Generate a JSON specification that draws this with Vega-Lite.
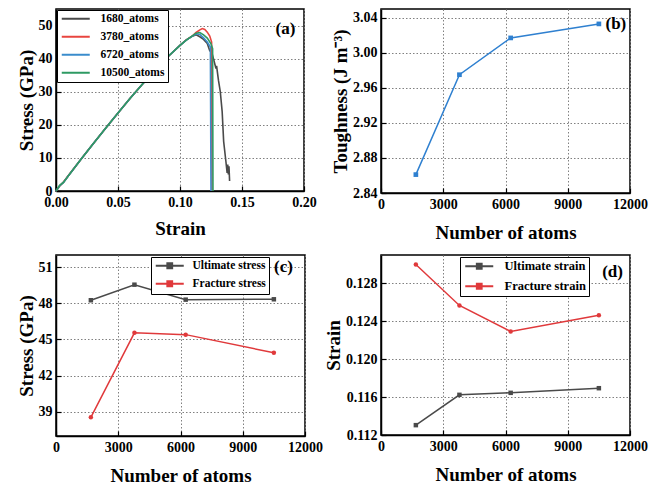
{
  "$schema": "https://vega.github.io/schema/vega-lite/v6.json",
  "background": "white",
  "padding": {"left": 16, "top": 8, "right": 5, "bottom": 2},
  "bounds": "flush",
  "spacing": {"row": 62, "column": 76},
  "columns": 2,
  "resolve": {"scale": {"color": "independent"}, "legend": {"color": "independent"}},
  "config": {
    "font": "Liberation Serif",
    "view": {"stroke": "black", "strokeWidth": 1.5},
    "axis": {
      "labelFont": "Liberation Serif", "labelFontSize": 14, "labelFontWeight": "bold", "labelColor": "black",
      "titleFont": "Liberation Serif", "titleFontSize": 19, "titleFontWeight": "bold", "titleColor": "black",
      "domainColor": "black", "domainWidth": 1.5, "tickColor": "black", "tickSize": -5, "tickWidth": 1.2,
      "labelPadding": 9, "labelOverlap": false, "labelFlush": false, "tickCount": 20,
      "gridColor": "#808080", "gridDash": [1.5, 2], "gridWidth": 1
    },
    "legend": {
      "labelFont": "Liberation Serif", "labelFontSize": 11.5, "labelFontWeight": "bold", "labelColor": "black",
      "symbolType": "M-3.5,0H3.5", "symbolSize": 64, "symbolStrokeWidth": 2, "symbolOffset": 10, "labelOffset": 19,
      "fillColor": "white", "strokeColor": "black", "padding": 3, "rowPadding": 5, "title": null
    }
  },
  "concat": [
    {
      "width": 248, "height": 182,
      "layer": [
        {
          "data": {"values": [
            {"s":"1680_atoms","i":1,"x":0,"y":0},{"s":"1680_atoms","i":2,"x":0.003,"y":1.6},{"s":"1680_atoms","i":3,"x":0.006,"y":2.6},{"s":"1680_atoms","i":4,"x":0.01,"y":4.6},{"s":"1680_atoms","i":5,"x":0.02,"y":9.5},{"s":"1680_atoms","i":6,"x":0.03,"y":14.3},{"s":"1680_atoms","i":7,"x":0.04,"y":19.0},{"s":"1680_atoms","i":8,"x":0.05,"y":23.6},{"s":"1680_atoms","i":9,"x":0.06,"y":28.1},{"s":"1680_atoms","i":10,"x":0.07,"y":32.4},{"s":"1680_atoms","i":11,"x":0.08,"y":36.6},{"s":"1680_atoms","i":12,"x":0.09,"y":40.5},{"s":"1680_atoms","i":13,"x":0.1,"y":44.0},{"s":"1680_atoms","i":14,"x":0.105,"y":45.6},{"s":"1680_atoms","i":15,"x":0.11,"y":46.8},
            {"s":"1680_atoms","i":16,"x":0.113,"y":47.2},{"s":"1680_atoms","i":17,"x":0.116,"y":46.6},{"s":"1680_atoms","i":18,"x":0.119,"y":45.8},{"s":"1680_atoms","i":19,"x":0.122,"y":44.6},{"s":"1680_atoms","i":20,"x":0.124,"y":42.4},{"s":"1680_atoms","i":21,"x":0.1255,"y":42.0},{"s":"1680_atoms","i":22,"x":0.127,"y":40.0},{"s":"1680_atoms","i":23,"x":0.129,"y":37.0},{"s":"1680_atoms","i":24,"x":0.1295,"y":37.8},{"s":"1680_atoms","i":25,"x":0.131,"y":33.5},{"s":"1680_atoms","i":26,"x":0.1325,"y":30.0},{"s":"1680_atoms","i":27,"x":0.134,"y":24.0},{"s":"1680_atoms","i":28,"x":0.1352,"y":15.0},{"s":"1680_atoms","i":29,"x":0.137,"y":9.0},{"s":"1680_atoms","i":30,"x":0.138,"y":5.5},{"s":"1680_atoms","i":31,"x":0.1385,"y":8.0},{"s":"1680_atoms","i":32,"x":0.139,"y":5.0},{"s":"1680_atoms","i":33,"x":0.1395,"y":7.5},{"s":"1680_atoms","i":34,"x":0.14,"y":3.0},
            {"s":"3780_atoms","i":1,"x":0,"y":0},{"s":"3780_atoms","i":2,"x":0.003,"y":1.5},{"s":"3780_atoms","i":3,"x":0.006,"y":2.7},{"s":"3780_atoms","i":4,"x":0.01,"y":4.7},{"s":"3780_atoms","i":5,"x":0.02,"y":9.5},{"s":"3780_atoms","i":6,"x":0.03,"y":14.3},{"s":"3780_atoms","i":7,"x":0.04,"y":19.0},{"s":"3780_atoms","i":8,"x":0.05,"y":23.6},{"s":"3780_atoms","i":9,"x":0.06,"y":28.1},{"s":"3780_atoms","i":10,"x":0.07,"y":32.4},{"s":"3780_atoms","i":11,"x":0.08,"y":36.6},{"s":"3780_atoms","i":12,"x":0.09,"y":40.5},{"s":"3780_atoms","i":13,"x":0.1,"y":44.0},{"s":"3780_atoms","i":14,"x":0.105,"y":45.7},{"s":"3780_atoms","i":15,"x":0.11,"y":46.9},
            {"s":"3780_atoms","i":16,"x":0.113,"y":47.9},{"s":"3780_atoms","i":17,"x":0.116,"y":48.7},{"s":"3780_atoms","i":18,"x":0.118,"y":49.1},{"s":"3780_atoms","i":19,"x":0.12,"y":48.8},{"s":"3780_atoms","i":20,"x":0.122,"y":48.0},{"s":"3780_atoms","i":21,"x":0.124,"y":46.8},{"s":"3780_atoms","i":22,"x":0.1255,"y":45.0},{"s":"3780_atoms","i":23,"x":0.1258,"y":0},
            {"s":"6720_atoms","i":1,"x":0,"y":0},{"s":"6720_atoms","i":2,"x":0.003,"y":1.6},{"s":"6720_atoms","i":3,"x":0.006,"y":2.6},{"s":"6720_atoms","i":4,"x":0.01,"y":4.6},{"s":"6720_atoms","i":5,"x":0.02,"y":9.5},{"s":"6720_atoms","i":6,"x":0.03,"y":14.3},{"s":"6720_atoms","i":7,"x":0.04,"y":19.0},{"s":"6720_atoms","i":8,"x":0.05,"y":23.6},{"s":"6720_atoms","i":9,"x":0.06,"y":28.1},{"s":"6720_atoms","i":10,"x":0.07,"y":32.4},{"s":"6720_atoms","i":11,"x":0.08,"y":36.6},{"s":"6720_atoms","i":12,"x":0.09,"y":40.5},{"s":"6720_atoms","i":13,"x":0.1,"y":44.0},{"s":"6720_atoms","i":14,"x":0.105,"y":45.6},{"s":"6720_atoms","i":15,"x":0.11,"y":46.8},
            {"s":"6720_atoms","i":16,"x":0.113,"y":47.5},{"s":"6720_atoms","i":17,"x":0.116,"y":47.3},{"s":"6720_atoms","i":18,"x":0.119,"y":46.3},{"s":"6720_atoms","i":19,"x":0.122,"y":45.0},{"s":"6720_atoms","i":20,"x":0.1245,"y":43.5},{"s":"6720_atoms","i":21,"x":0.125,"y":0},
            {"s":"10500_atoms","i":1,"x":0,"y":0},{"s":"10500_atoms","i":2,"x":0.003,"y":1.7},{"s":"10500_atoms","i":3,"x":0.006,"y":2.6},{"s":"10500_atoms","i":4,"x":0.01,"y":4.6},{"s":"10500_atoms","i":5,"x":0.02,"y":9.5},{"s":"10500_atoms","i":6,"x":0.03,"y":14.3},{"s":"10500_atoms","i":7,"x":0.04,"y":19.0},{"s":"10500_atoms","i":8,"x":0.05,"y":23.6},{"s":"10500_atoms","i":9,"x":0.06,"y":28.1},{"s":"10500_atoms","i":10,"x":0.07,"y":32.4},{"s":"10500_atoms","i":11,"x":0.08,"y":36.6},{"s":"10500_atoms","i":12,"x":0.09,"y":40.5},{"s":"10500_atoms","i":13,"x":0.1,"y":44.0},{"s":"10500_atoms","i":14,"x":0.105,"y":45.6},{"s":"10500_atoms","i":15,"x":0.11,"y":46.9},
            {"s":"10500_atoms","i":16,"x":0.113,"y":47.7},{"s":"10500_atoms","i":17,"x":0.116,"y":47.9},{"s":"10500_atoms","i":18,"x":0.119,"y":47.2},{"s":"10500_atoms","i":19,"x":0.122,"y":46.2},{"s":"10500_atoms","i":20,"x":0.125,"y":44.5},{"s":"10500_atoms","i":21,"x":0.1263,"y":43.0},{"s":"10500_atoms","i":22,"x":0.1266,"y":0}
          ]},
          "mark": {"type": "line", "strokeWidth": 1.6},
          "encoding": {
            "x": {"field": "x", "type": "quantitative", "title": "Strain", "scale": {"domain": [0, 0.2], "nice": false}, "axis": {"values": [0, 0.05, 0.1, 0.15, 0.2], "format": ".2f", "titlePadding": 10, "tickCount": 20}},
            "y": {"field": "y", "type": "quantitative", "title": "Stress (GPa)", "scale": {"domain": [0, 55], "nice": false}, "axis": {"values": [0, 10, 20, 30, 40, 50], "titlePadding": 2, "tickCount": 20}},
            "color": {"field": "s", "type": "nominal", "sort": ["1680_atoms", "3780_atoms", "6720_atoms", "10500_atoms"], "scale": {"domain": ["1680_atoms", "3780_atoms", "6720_atoms", "10500_atoms"], "range": ["#4a4a4a", "#e8453f", "#3a8ccc", "#2e9a63"]}, "legend": {"orient": "top-left", "offset": 1}},
            "order": {"field": "i", "type": "quantitative"}
          }
        },
        {
          "data": {"values": [{"label": "(a)"}]},
          "mark": {"type": "text", "font": "Liberation Serif", "fontSize": 17, "fontWeight": "bold", "color": "black", "align": "right", "baseline": "middle"},
          "encoding": {"x": {"datum": 0.193}, "y": {"datum": 49}, "text": {"field": "label"}}
        }
      ]
    },
    {
      "width": 249, "height": 184,
      "layer": [
        {
          "data": {"values": [
            {"atoms": 1680, "t": 2.861}, {"atoms": 3780, "t": 2.975}, {"atoms": 6250, "t": 3.017}, {"atoms": 10500, "t": 3.033}
          ]},
          "mark": {"type": "line", "color": "#2f80d0", "strokeWidth": 1.5, "point": {"shape": "square", "size": 22, "color": "#2f80d0"}},
          "encoding": {
            "x": {"field": "atoms", "type": "quantitative", "title": "Number of atoms", "scale": {"domain": [0, 12000], "nice": false}, "axis": {"values": [0, 3000, 6000, 9000, 12000], "format": "d", "titlePadding": 12, "tickCount": 20}},
            "y": {"field": "t", "type": "quantitative", "title": "Toughness (J m⁻³)", "scale": {"domain": [2.84, 3.05], "nice": false, "zero": false}, "axis": {"values": [2.84, 2.88, 2.92, 2.96, 3.0, 3.04], "format": ".2f", "titlePadding": 2, "tickCount": 20}}
          }
        },
        {
          "data": {"values": [{"label": "(b)"}]},
          "mark": {"type": "text", "font": "Liberation Serif", "fontSize": 17, "fontWeight": "bold", "color": "black", "align": "right", "baseline": "middle"},
          "encoding": {"x": {"datum": 11820}, "y": {"datum": 3.033}, "text": {"field": "label"}}
        }
      ]
    },
    {
      "width": 249, "height": 181,
      "layer": [
        {
          "data": {"name": "c"},
          "mark": {"type": "line", "strokeWidth": 1.5},
          "encoding": {
            "x": {"field": "atoms", "type": "quantitative", "title": "Number of atoms", "scale": {"domain": [0, 12000], "nice": false}, "axis": {"values": [0, 3000, 6000, 9000, 12000], "format": "d", "titlePadding": 12, "tickCount": 20}},
            "y": {"field": "v", "type": "quantitative", "title": "Stress (GPa)", "scale": {"domain": [37, 52], "nice": false, "zero": false}, "axis": {"values": [39, 42, 45, 48, 51], "titlePadding": 2, "tickCount": 20}},
            "color": {"field": "s", "type": "nominal", "scale": {"domain": ["Ultimate stress", "Fracture stress"], "range": ["#4a4a4a", "#e0393b"]}, "legend": {"orient": "none", "legendX": 95, "legendY": 2, "symbolType": "M-3.5,0H3.5M-0.6,-0.6H0.6V0.6H-0.6Z", "rowPadding": 4, "labelOffset": 17}}
          }
        },
        {
          "data": {"name": "c"},
          "transform": [{"filter": "datum.s == 'Ultimate stress'"}],
          "mark": {"type": "point", "filled": true, "size": 20, "opacity": 1, "shape": "square"},
          "encoding": {"x": {"field": "atoms", "type": "quantitative"}, "y": {"field": "v", "type": "quantitative"}, "color": {"field": "s", "type": "nominal", "legend": null}}
        },
        {
          "data": {"name": "c"},
          "transform": [{"filter": "datum.s == 'Fracture stress'"}],
          "mark": {"type": "point", "filled": true, "size": 20, "opacity": 1, "shape": "circle"},
          "encoding": {"x": {"field": "atoms", "type": "quantitative"}, "y": {"field": "v", "type": "quantitative"}, "color": {"field": "s", "type": "nominal", "legend": null}}
        },
        {
          "data": {"values": [{"label": "(c)"}]},
          "mark": {"type": "text", "font": "Liberation Serif", "fontSize": 17, "fontWeight": "bold", "color": "black", "align": "right", "baseline": "middle"},
          "encoding": {"x": {"datum": 11420}, "y": {"datum": 51.0}, "text": {"field": "label"}}
        }
      ]
    },
    {
      "width": 249, "height": 180,
      "layer": [
        {
          "data": {"name": "d"},
          "mark": {"type": "line", "strokeWidth": 1.5},
          "encoding": {
            "x": {"field": "atoms", "type": "quantitative", "title": "Number of atoms", "scale": {"domain": [0, 12000], "nice": false}, "axis": {"values": [0, 3000, 6000, 9000, 12000], "format": "d", "titlePadding": 12, "tickCount": 20}},
            "y": {"field": "v", "type": "quantitative", "title": "Strain", "scale": {"domain": [0.112, 0.131], "nice": false, "zero": false}, "axis": {"values": [0.112, 0.116, 0.12, 0.124, 0.128], "format": ".3f", "titlePadding": 2, "tickCount": 20}},
            "color": {"field": "s", "type": "nominal", "scale": {"domain": ["Ultimate strain", "Fracture strain"], "range": ["#4a4a4a", "#e0393b"]}, "legend": {"orient": "none", "legendX": 79, "legendY": 2, "symbolType": "M-3.5,0H3.5M-0.6,-0.6H0.6V0.6H-0.6Z", "rowPadding": 6, "labelFontSize": 12.5}}
          }
        },
        {
          "data": {"name": "d"},
          "transform": [{"filter": "datum.s == 'Ultimate strain'"}],
          "mark": {"type": "point", "filled": true, "size": 20, "opacity": 1, "shape": "square"},
          "encoding": {"x": {"field": "atoms", "type": "quantitative"}, "y": {"field": "v", "type": "quantitative"}, "color": {"field": "s", "type": "nominal", "legend": null}}
        },
        {
          "data": {"name": "d"},
          "transform": [{"filter": "datum.s == 'Fracture strain'"}],
          "mark": {"type": "point", "filled": true, "size": 20, "opacity": 1, "shape": "circle"},
          "encoding": {"x": {"field": "atoms", "type": "quantitative"}, "y": {"field": "v", "type": "quantitative"}, "color": {"field": "s", "type": "nominal", "legend": null}}
        },
        {
          "data": {"values": [{"label": "(d)"}]},
          "mark": {"type": "text", "font": "Liberation Serif", "fontSize": 17, "fontWeight": "bold", "color": "black", "align": "right", "baseline": "middle"},
          "encoding": {"x": {"datum": 11660}, "y": {"datum": 0.1292}, "text": {"field": "label"}}
        }
      ]
    }
  ],
  "datasets": {
    "c": [
      {"atoms": 1680, "v": 48.25, "s": "Ultimate stress"}, {"atoms": 3780, "v": 49.54, "s": "Ultimate stress"}, {"atoms": 6250, "v": 48.3, "s": "Ultimate stress"}, {"atoms": 10500, "v": 48.33, "s": "Ultimate stress"},
      {"atoms": 1680, "v": 38.55, "s": "Fracture stress"}, {"atoms": 3780, "v": 45.55, "s": "Fracture stress"}, {"atoms": 6250, "v": 45.4, "s": "Fracture stress"}, {"atoms": 10500, "v": 43.9, "s": "Fracture stress"}
    ],
    "d": [
      {"atoms": 1680, "v": 0.11304, "s": "Ultimate strain"}, {"atoms": 3780, "v": 0.11624, "s": "Ultimate strain"}, {"atoms": 6250, "v": 0.11645, "s": "Ultimate strain"}, {"atoms": 10500, "v": 0.11694, "s": "Ultimate strain"},
      {"atoms": 1680, "v": 0.1300, "s": "Fracture strain"}, {"atoms": 3780, "v": 0.12567, "s": "Fracture strain"}, {"atoms": 6250, "v": 0.12292, "s": "Fracture strain"}, {"atoms": 10500, "v": 0.12463, "s": "Fracture strain"}
    ]
  }
}
